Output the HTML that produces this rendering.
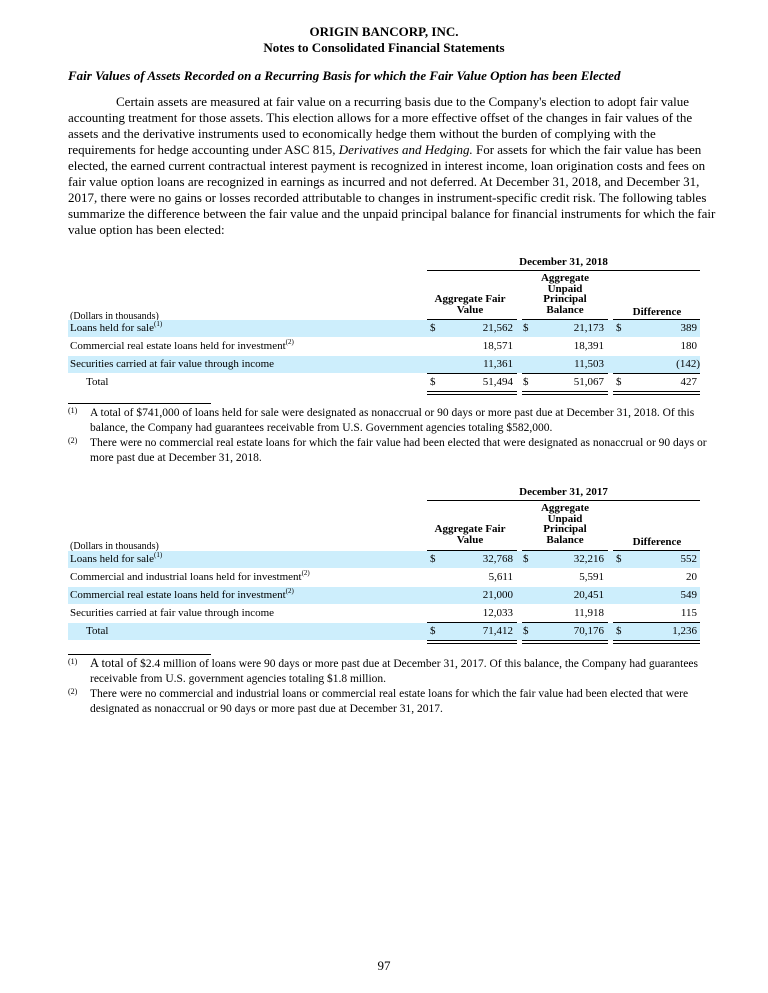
<!DOCTYPE html>
<html><head><meta charset="utf-8"><style>
body{margin:0;background:#fff;}
#p{position:relative;width:768px;height:993px;font-family:"Liberation Serif",serif;color:#000;}
.l{position:absolute;white-space:nowrap;font-size:13px;line-height:16px;}
.t{position:absolute;white-space:nowrap;font-size:11px;line-height:14px;}
.f{position:absolute;white-space:nowrap;font-size:11.5px;line-height:14px;}
.b{font-weight:bold;}
.c{text-align:center;}
.r{text-align:right;}
.bg{position:absolute;left:68px;width:632px;height:17px;background:#cdeefc;}
.hl{position:absolute;height:0;border-top:1.3px solid #000;}
.dl{position:absolute;height:2px;border-top:1px solid #000;border-bottom:1px solid #000;}
sup{font-size:7px;vertical-align:5px;line-height:0;}
</style></head><body><div id="p">
<div class="l b c" style="left:0;width:768px;top:24px">ORIGIN BANCORP, INC.</div>
<div class="l b c" style="left:0;width:768px;top:40px">Notes to Consolidated Financial Statements</div>
<div class="l b" style="left:68px;top:68px;font-style:italic">Fair Values of Assets Recorded on a Recurring Basis for which the Fair Value Option has been Elected</div>
<div class="l" style="left:116px;top:94px">Certain assets are measured at fair value on a recurring basis due to the Company's election to adopt fair value</div>
<div class="l" style="left:68px;top:110px">accounting treatment for those assets. This election allows for a more effective offset of the changes in fair values of the</div>
<div class="l" style="left:68px;top:126px">assets and the derivative instruments used to economically hedge them without the burden of complying with the</div>
<div class="l" style="left:68px;top:142px">requirements for hedge accounting under ASC 815, <i>Derivatives and Hedging.</i> For assets for which the fair value has been</div>
<div class="l" style="left:68px;top:158px">elected, the earned current contractual interest payment is recognized in interest income, loan origination costs and fees on</div>
<div class="l" style="left:68px;top:174px">fair value option loans are recognized in earnings as incurred and not deferred. At December 31, 2018, and December 31,</div>
<div class="l" style="left:68px;top:190px">2017, there were no gains or losses recorded attributable to changes in instrument-specific credit risk. The following tables</div>
<div class="l" style="left:68px;top:206px">summarize the difference between the fair value and the unpaid principal balance for financial instruments for which the fair</div>
<div class="l" style="left:68px;top:222px">value option has been elected:</div>

<!-- Table 1 -->
<div class="t b c" style="left:427px;width:273px;top:255px">December 31, 2018</div>
<div class="hl" style="left:427px;width:273px;top:270px"></div>
<div class="t b c" style="left:520px;width:90px;top:273px;line-height:10.7px">Aggregate<br>Unpaid<br>Principal<br>Balance</div>
<div class="t b c" style="left:420px;width:100px;top:294px;line-height:10.7px">Aggregate Fair<br>Value</div>
<div class="t b c" style="left:612px;width:90px;top:305px">Difference</div>
<div class="t" style="left:70px;top:310px;font-size:10px">(Dollars in thousands)</div>
<div class="hl" style="left:427px;width:90px;top:319px;border-top-width:1px"></div>
<div class="hl" style="left:522px;width:86px;top:319px;border-top-width:1px"></div>
<div class="hl" style="left:613px;width:87px;top:319px;border-top-width:1px"></div>
<div class="bg" style="top:320px"></div>
<div class="bg" style="top:356px"></div>
<div class="t" style="left:70px;top:321px">Loans held for sale<sup>(1)</sup></div>
<div class="t" style="left:70px;top:339px">Commercial real estate loans held for investment<sup>(2)</sup></div>
<div class="t" style="left:70px;top:357px">Securities carried at fair value through income</div>
<div class="t" style="left:86px;top:375px">Total</div>
<div class="t" style="left:430px;top:321px">$</div><div class="t r" style="left:450px;width:63px;top:321px">21,562</div>
<div class="t" style="left:523px;top:321px">$</div><div class="t r" style="left:540px;width:64px;top:321px">21,173</div>
<div class="t" style="left:616px;top:321px">$</div><div class="t r" style="left:630px;width:67px;top:321px">389</div>
<div class="t r" style="left:450px;width:63px;top:339px">18,571</div>
<div class="t r" style="left:540px;width:64px;top:339px">18,391</div>
<div class="t r" style="left:630px;width:67px;top:339px">180</div>
<div class="t r" style="left:450px;width:63px;top:357px">11,361</div>
<div class="t r" style="left:540px;width:64px;top:357px">11,503</div>
<div class="t r" style="left:630px;width:70px;top:357px">(142)</div>
<div class="hl" style="left:427px;width:90px;top:373px;border-top-width:1px"></div>
<div class="hl" style="left:522px;width:86px;top:373px;border-top-width:1px"></div>
<div class="hl" style="left:613px;width:87px;top:373px;border-top-width:1px"></div>
<div class="t" style="left:430px;top:375px">$</div><div class="t r" style="left:450px;width:63px;top:375px">51,494</div>
<div class="t" style="left:523px;top:375px">$</div><div class="t r" style="left:540px;width:64px;top:375px">51,067</div>
<div class="t" style="left:616px;top:375px">$</div><div class="t r" style="left:630px;width:67px;top:375px">427</div>
<div class="dl" style="left:427px;width:90px;top:391px"></div>
<div class="dl" style="left:522px;width:86px;top:391px"></div>
<div class="dl" style="left:613px;width:87px;top:391px"></div>

<div class="hl" style="left:68px;width:143px;top:403px;border-top-width:1px"></div>
<div class="t" style="left:68px;top:404px;font-size:8px">(1)</div>
<div class="f" style="left:90px;top:406px">A total of $741,000 of loans held for sale were designated as nonaccrual or 90 days or more past due at December 31, 2018. Of this</div>
<div class="f" style="left:90px;top:421px">balance, the Company had guarantees receivable from U.S. Government agencies totaling $582,000.</div>
<div class="t" style="left:68px;top:434px;font-size:8px">(2)</div>
<div class="f" style="left:90px;top:436px">There were no commercial real estate loans for which the fair value had been elected that were designated as nonaccrual or 90 days or</div>
<div class="f" style="left:90px;top:451px">more past due at December 31, 2018.</div>

<!-- Table 2 -->
<div class="t b c" style="left:427px;width:273px;top:485px">December 31, 2017</div>
<div class="hl" style="left:427px;width:273px;top:500px"></div>
<div class="t b c" style="left:520px;width:90px;top:503px;line-height:10.7px">Aggregate<br>Unpaid<br>Principal<br>Balance</div>
<div class="t b c" style="left:420px;width:100px;top:524px;line-height:10.7px">Aggregate Fair<br>Value</div>
<div class="t b c" style="left:612px;width:90px;top:535px">Difference</div>
<div class="t" style="left:70px;top:540px;font-size:10px">(Dollars in thousands)</div>
<div class="hl" style="left:427px;width:90px;top:550px;border-top-width:1px"></div>
<div class="hl" style="left:522px;width:86px;top:550px;border-top-width:1px"></div>
<div class="hl" style="left:613px;width:87px;top:550px;border-top-width:1px"></div>
<div class="bg" style="top:551px"></div>
<div class="bg" style="top:587px"></div>
<div class="bg" style="top:623px"></div>
<div class="t" style="left:70px;top:552px">Loans held for sale<sup>(1)</sup></div>
<div class="t" style="left:70px;top:570px">Commercial and industrial loans held for investment<sup>(2)</sup></div>
<div class="t" style="left:70px;top:588px">Commercial real estate loans held for investment<sup>(2)</sup></div>
<div class="t" style="left:70px;top:606px">Securities carried at fair value through income</div>
<div class="t" style="left:86px;top:624px">Total</div>
<div class="t" style="left:430px;top:552px">$</div><div class="t r" style="left:450px;width:63px;top:552px">32,768</div>
<div class="t" style="left:523px;top:552px">$</div><div class="t r" style="left:540px;width:64px;top:552px">32,216</div>
<div class="t" style="left:616px;top:552px">$</div><div class="t r" style="left:630px;width:67px;top:552px">552</div>
<div class="t r" style="left:450px;width:63px;top:570px">5,611</div>
<div class="t r" style="left:540px;width:64px;top:570px">5,591</div>
<div class="t r" style="left:630px;width:67px;top:570px">20</div>
<div class="t r" style="left:450px;width:63px;top:588px">21,000</div>
<div class="t r" style="left:540px;width:64px;top:588px">20,451</div>
<div class="t r" style="left:630px;width:67px;top:588px">549</div>
<div class="t r" style="left:450px;width:63px;top:606px">12,033</div>
<div class="t r" style="left:540px;width:64px;top:606px">11,918</div>
<div class="t r" style="left:630px;width:67px;top:606px">115</div>
<div class="hl" style="left:427px;width:90px;top:622px;border-top-width:1px"></div>
<div class="hl" style="left:522px;width:86px;top:622px;border-top-width:1px"></div>
<div class="hl" style="left:613px;width:87px;top:622px;border-top-width:1px"></div>
<div class="t" style="left:430px;top:624px">$</div><div class="t r" style="left:450px;width:63px;top:624px">71,412</div>
<div class="t" style="left:523px;top:624px">$</div><div class="t r" style="left:540px;width:64px;top:624px">70,176</div>
<div class="t" style="left:616px;top:624px">$</div><div class="t r" style="left:630px;width:67px;top:624px">1,236</div>
<div class="dl" style="left:427px;width:90px;top:640px"></div>
<div class="dl" style="left:522px;width:86px;top:640px"></div>
<div class="dl" style="left:613px;width:87px;top:640px"></div>

<div class="hl" style="left:68px;width:143px;top:654px;border-top-width:1px"></div>
<div class="t" style="left:68px;top:655px;font-size:8px">(1)</div>
<div class="f" style="left:90px;top:656px"><span style="font-size:12.5px">A total of</span> $2.4 million of loans were 90 days or more past due at December 31, 2017. Of this balance, the Company had guarantees</div>
<div class="f" style="left:90px;top:672px">receivable from U.S. government agencies totaling $1.8 million.</div>
<div class="t" style="left:68px;top:685px;font-size:8px">(2)</div>
<div class="f" style="left:90px;top:687px">There were no commercial and industrial loans or commercial real estate loans for which the fair value had been elected that were</div>
<div class="f" style="left:90px;top:702px">designated as nonaccrual or 90 days or more past due at December 31, 2017.</div>

<div class="l c" style="left:0;width:768px;top:958px">97</div>
</div></body></html>
